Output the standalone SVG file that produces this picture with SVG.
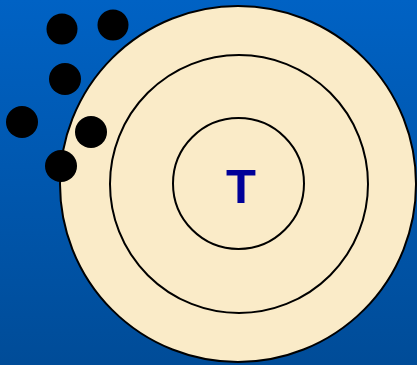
<svg xmlns="http://www.w3.org/2000/svg" width="417" height="365" viewBox="0 0 417 365">
<defs>
<linearGradient id="bg" x1="0" y1="0" x2="0" y2="1">
<stop offset="0" stop-color="#0062C4"/>
<stop offset="1" stop-color="#004C98"/>
</linearGradient>
<style>
.ring{fill:#FAEBC8;stroke:#000;stroke-width:2}
.dot{fill:#000}
.lbl{font-family:"Liberation Sans",Arial,sans-serif;font-weight:bold;font-size:49px;fill:#000099;text-anchor:middle}
</style>
</defs>
<rect width="417" height="365" fill="url(#bg)"/>
<g id="outer"><circle class="ring" cx="238" cy="184" r="178"/></g>
<g id="middle"><circle class="ring" cx="239" cy="184" r="129"/></g>
<g id="inner"><circle class="ring" cx="238.5" cy="183.5" r="65.5"/>
<text class="lbl" x="241" y="203">T</text></g>
<g id="dots">
<circle class="dot" cx="62" cy="29" r="15.5"/>
<circle class="dot" cx="113" cy="25" r="15.5"/>
<circle class="dot" cx="65" cy="79" r="16"/>
<circle class="dot" cx="22" cy="122" r="16"/>
<circle class="dot" cx="91" cy="132" r="16"/>
<circle class="dot" cx="61" cy="166" r="16"/>
</g>
</svg>
